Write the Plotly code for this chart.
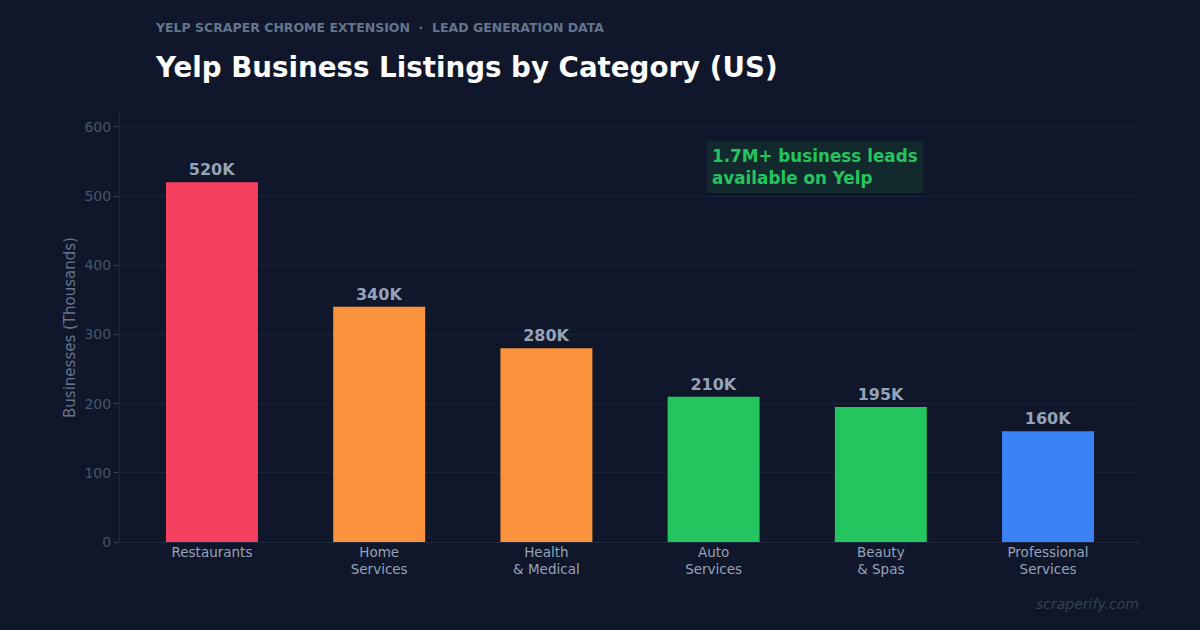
import plotly.graph_objects as go

categories = ["Restaurants", "Home<br>Services", "Health<br>& Medical", "Auto<br>Services", "Beauty<br>& Spas", "Professional<br>Services"]
values = [520, 340, 280, 210, 195, 160]
labels = ["520K", "340K", "280K", "210K", "195K", "160K"]
colors = ["#f43f5e", "#fb923c", "#fb923c", "#22c55e", "#22c55e", "#3b82f6"]

BG = "#10172a"
FONT = "DejaVu Sans"

fig = go.Figure()
fig.add_trace(go.Bar(
    x=categories, y=values, text=labels, textposition="outside",
    marker=dict(color=colors, line=dict(width=0)),
    width=0.55,
    textfont=dict(color="#94a3b8", size=16, family=FONT, weight="bold"),
    cliponaxis=False, hoverinfo="skip",
))

fig.update_layout(
    width=1200, height=630,
    paper_bgcolor=BG, plot_bgcolor=BG,
    margin=dict(l=120, r=60, t=113, b=88),
    font=dict(family=FONT, color="#94a3b8"),
    showlegend=False,
    xaxis=dict(range=[-0.55, 5.55], showgrid=False, showline=False, ticks="",
               tickfont=dict(size=13.5, color="#94a3b8"), zeroline=False),
    yaxis=dict(range=[0, 620], tickvals=[0, 100, 200, 300, 400, 500, 600],
               showgrid=True, gridcolor="#19243a", gridwidth=1,
               showline=True, linecolor="#1e293b", linewidth=1,
               ticks="outside", ticklen=5, tickcolor="#334155",
               tickfont=dict(size=14, color="#475569"),
               zeroline=True, zerolinecolor="#1e293b", zerolinewidth=1,
               title=dict(text="Businesses (Thousands)", font=dict(size=15, color="#64748b"), standoff=5)),
    annotations=[
        dict(text="YELP SCRAPER CHROME EXTENSION  ·  LEAD GENERATION DATA", xref="paper", yref="paper",
             x=(153-120)/1020, y=(630-28-88)/429, xanchor="left", yanchor="middle", showarrow=False,
             font=dict(size=12.5, color="#64748b", family=FONT, weight="bold")),
        dict(text="Yelp Business Listings by Category (US)", xref="paper", yref="paper",
             x=(153-120)/1020, y=(630-67-88)/429, xanchor="left", yanchor="middle", showarrow=False,
             font=dict(size=27.7, color="#ffffff", family=FONT, weight="bold")),
        dict(text="1.7M+ business leads<br>available on Yelp", xref="paper", yref="paper",
             x=(707-120)/1020, y=(630-141-88)/429, xanchor="left", yanchor="top", showarrow=False,
             align="left", bgcolor="#12292e", borderpad=4, bordercolor="#12292e",
             font=dict(size=16.8, color="#22c55e", family=FONT, weight="bold")),
        dict(text="<i>scraperify.com</i>", xref="paper", yref="paper",
             x=(1141-120)/1020, y=(630-604-88)/429, xanchor="right", yanchor="middle", showarrow=False,
             font=dict(size=14, color="#334155", family=FONT)),
    ],
)

fig.write_html("out.html")
